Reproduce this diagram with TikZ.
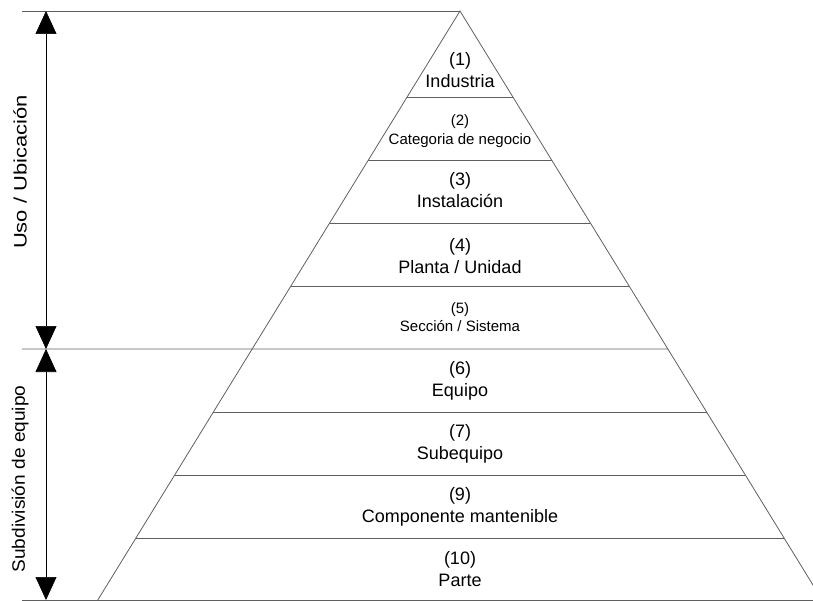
\documentclass[tikz,border=0pt]{standalone}
\usepackage{fontspec}
\setmainfont{Liberation Sans}
\usepackage{graphicx}
\usepackage{tikz}
\usetikzlibrary{arrows.meta,calc}
\definecolor{lGray}{RGB}{95,95,95}

\begin{document}
\begin{tikzpicture}[x=1pt,y=-1pt,
  ln/.style={draw=lGray,line width=0.8pt},
  ar/.style={{Triangle[length=23pt,width=21pt]}-{Triangle[length=23pt,width=21pt]},draw=black,line width=0.6pt},
  lvl/.style={align=center,inner sep=0pt,font=\fontsize{18}{22}\selectfont},
  lvls/.style={align=center,inner sep=0pt,font=\fontsize{15}{18.5}\selectfont},
  side/.style={rotate=90,inner sep=0pt,font=\fontsize{18}{20}\selectfont}]
\useasboundingbox (0,0) rectangle (813,601);
\def\H{589}
% pyramid frame
\coordinate (ap) at (460,11);
\coordinate (bl) at (97.8,600);
\coordinate (br) at (822.2,600);
\coordinate (lt) at (22,11);
\coordinate (lm) at (22,349);
\coordinate (lb) at (22,600);
\draw[ln] (lt) -- (ap);
\draw[ln] (bl) -- (ap) -- (br);
\foreach \y in {97,160,223,286,412,475,538}
  \draw[ln] ($(ap)!{(\y-11)/\H}!(bl)$) -- ($(ap)!{(\y-11)/\H}!(br)$);
\draw[ln] (lm) -- ($(ap)!{338/\H}!(br)$);
\draw[ln] (lb) -- (br);
% levels
\node[lvl]  (n1)  at (460,70)  {(1)\\Industria};
\node[lvls] (n2)  at (460,131) {(2)\\Categoria de negocio};
\node[lvl]  (n3)  at (460,190) {(3)\\Instalación};
\node[lvl]  (n4)  at (460,256) {(4)\\Planta / Unidad};
\node[lvls] (n5)  at (460,317) {(5)\\Sección / Sistema};
\node[lvl]  (n6)  at (460,381) {(6)\\Equipo};
\node[lvl]  (n7)  at (460,444) {(7)\\Subequipo};
\node[lvl]  (n9)  at (460,507) {(9)\\Componente mantenible};
\node[lvl]  (n10) at (460,569) {(10)\\Parte};
% side arrows
\coordinate (ut) at (46,11);
\coordinate (um) at (46,349);
\coordinate (ub) at (46,600);
\draw[ar] (um) -- (ut);
\draw[ar] (ub) -- (um);
\node[side] (uso) at (20,172) {\scalebox{1.22}[1]{Uso / Ubicación}};
\node[side] (sub) at (20,479) {\scalebox{1.06}[1]{Subdivisión de equipo}};
\end{tikzpicture}
\end{document}
